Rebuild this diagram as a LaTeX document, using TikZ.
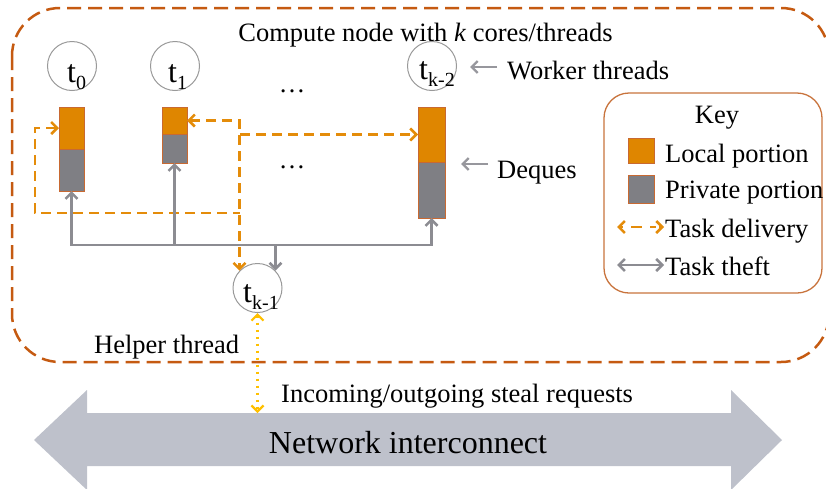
\documentclass[tikz,border=0pt]{standalone}
\usepackage{fontspec}
\setmainfont{Liberation Serif}
\usetikzlibrary{arrows.meta,calc}

\definecolor{boxorange}{RGB}{197,90,17}
\definecolor{localfill}{RGB}{223,134,0}
\definecolor{privfill}{RGB}{127,127,132}
\definecolor{dqedge}{RGB}{200,105,50}
\definecolor{delivc}{RGB}{228,140,10}
\definecolor{theftc}{RGB}{140,140,146}
\definecolor{reqc}{RGB}{255,192,0}
\definecolor{netfill}{RGB}{190,193,203}
\definecolor{keyedge}{RGB}{200,115,60}

% subscript for thread names
\newcommand\thrsub[1]{\raisebox{-7pt}{\fontsize{20}{20}\selectfont #1}}

\tikzset{
  chev/.tip={Straight Barb[length=6pt,width=12pt]},
  txt/.style={font=\fontsize{26.5}{30}\selectfont, inner sep=0},
  thr/.style={circle, draw=black!40, line width=1, minimum size=49, inner sep=0},
  thrlab/.style={font=\fontsize{32}{32}\selectfont, inner sep=0, anchor=base west},
  localp/.style={draw=dqedge, line width=0.8, fill=localfill, inner sep=0, outer sep=0, anchor=north west},
  privp/.style={draw=dqedge, line width=0.8, fill=privfill, inner sep=0, outer sep=0, anchor=north},
  deliv/.style={draw=delivc, line width=2.5, dash pattern=on 10pt off 6pt},
  theft/.style={draw=theftc, line width=2.6},
  pointer/.style={draw=theftc!90, line width=2.4, -chev},
  req/.style={draw=reqc, line width=2.2, dash pattern=on 2pt off 5pt},
}

\begin{document}
\begin{tikzpicture}[x=1pt,y=-1pt]
\clip (0,0) rectangle (826,488);
\useasboundingbox (0,0) rectangle (826,488);

% network interconnect
\fill[netfill] (34,440) -- (87,390) -- (87,413) -- (731,413) -- (731,390)
  -- (782,440) -- (731,490) -- (731,466) -- (87,466) -- (87,490) -- cycle;
\node[font=\fontsize{32}{36}\selectfont, inner sep=0, anchor=base] (net) at (408,453) {Network interconnect};

% compute node frame
\draw[boxorange, line width=2.5, dash pattern=on 14pt off 7pt, rounded corners=48]
  (12,8) rectangle (829,362);
\node[txt, anchor=base] (title) at (425.5,41.5) {Compute node with \textit{k} cores/threads};

% worker threads
\node[thr] (c0) at (72,66) {};
\node[thr] (c1) at (175,66) {};
\node[thr] (c2) at (432,66) {};
\node[thrlab] (c0t) at (67,82) {t\thrsub{0}};
\node[thrlab] (c1t) at (168,82) {t\thrsub{1}};
\node[thrlab] (c2t) at (419,79) {t\thrsub{k-2}};
\node[txt, anchor=base] (dots1) at (292,92) {…};

% helper thread
\node[thr] (h) at (257.5,288) {};
\node[thrlab] (ht) at (243,302) {t\thrsub{k-1}};
\node[txt, anchor=base west] (help) at (94,353) {Helper thread};

% deques
\node[localp, minimum width=25, minimum height=42] (q0l) at (59,107) {};
\node[privp, minimum width=25, minimum height=42] (q0p) at (q0l.south) {};
\node[localp, minimum width=25, minimum height=27] (q1l) at (162,107) {};
\node[privp, minimum width=25, minimum height=29] (q1p) at (q1l.south) {};
\node[localp, minimum width=27, minimum height=55] (q2l) at (418,107) {};
\node[privp, minimum width=27, minimum height=56] (q2p) at (q2l.south) {};
\node[txt, anchor=base] (dots2) at (292,168) {…};

% annotations
\node[txt, anchor=base west] (wlab) at (507,79) {Worker threads};
\coordinate (wA) at (497,67);
\coordinate (wB) at (470,67);
\draw[pointer] (wA) -- (wB);
\node[txt, anchor=base west] (dlab) at (497,178) {Deques};
\coordinate (dA) at (488,164);
\coordinate (dB) at (461,164);
\draw[pointer] (dA) -- (dB);

% task delivery
\coordinate (dl) at (35,213);
\coordinate (dj) at (240,213);
\coordinate (dk) at (240,135);
\draw[deliv, chev-chev] (q1l.east) -| (h.136);
\draw[deliv, chev-] (q0l.west) -| (dl) -- (dj);
\draw[deliv, -chev] (dk |- q2l.west) -- (q2l.west);

% task theft
\coordinate (bus) at (0,245);
\draw[theft, chev-chev] (q0p.south) -- (q0p.south |- bus) -| (q2p.south);
\draw[theft, chev-] (q1p.south) -- (q1p.south |- bus);
\draw[theft, -chev] (h.44 |- bus) -- (h.44);

% steal requests
\coordinate (netTop) at (258,413);
\draw[req, chev-chev] (h.south) -- (h.south |- netTop);
\node[txt, anchor=base west] (inc) at (281,402) {Incoming/outgoing steal requests};

% key
\draw[keyedge, line width=1.3, rounded corners=25] (604,93) rectangle (822,293);
\node[txt, anchor=base] (keyt) at (717,123) {Key};
\node[localp, minimum width=26, minimum height=25] (kl) at (628,138) {};
\node[txt, anchor=base west] (klt) at (665,162) {Local portion};
\node[localp, fill=privfill, minimum width=26, minimum height=28] (kp) at (628,175) {};
\node[txt, anchor=base west] (kpt) at (665,198) {Private portion};
\coordinate (kdA) at (617,227);
\coordinate (kdB) at (664,227);
\draw[draw=delivc, line width=2.5, dash pattern=on 3pt off 8pt on 11pt off 8pt on 6pt, chev-chev] (kdA) -- (kdB);
\node[txt, anchor=base west] (kdt) at (665,237) {Task delivery};
\coordinate (ktA) at (617,265);
\coordinate (ktB) at (664,265);
\draw[theft, chev-chev] (ktA) -- (ktB);
\node[txt, anchor=base west] (ktt) at (665,275) {Task theft};
\end{tikzpicture}
\end{document}
